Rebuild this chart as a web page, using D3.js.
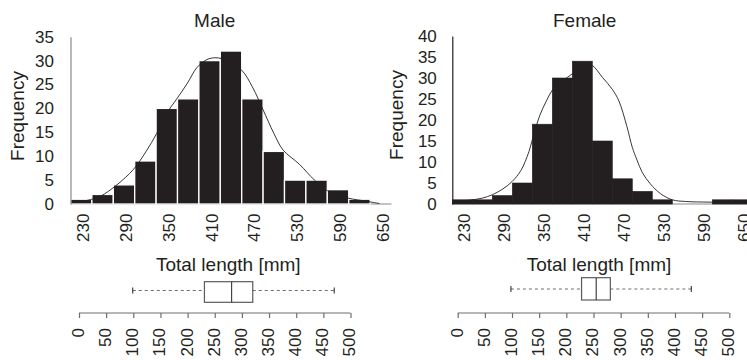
<!DOCTYPE html>
<html>
<head>
<meta charset="utf-8">
<script src="https://cdn.jsdelivr.net/npm/d3@7"></script>
<style>
  html, body { margin: 0; padding: 0; background: #fff; }
  svg { display: block; }
  text { font-family: "Liberation Sans", Arial, sans-serif; fill: #231f20; }
</style>
</head>
<body>
<svg id="chart" width="747" height="360"></svg>
<script>
// Histogram bins (30 mm wide), labelled by bin centre
const binCenters = [230, 260, 290, 320, 350, 380, 410, 440, 470, 500, 530, 560, 590, 620, 650];
const maleCounts = [1, 2, 4, 9, 20, 22, 30, 32, 22, 11, 5, 5, 3, 1, 0];
const femaleCounts = [1, 1, 2, 5, 19, 30, 34, 15, 6, 3, 1, 0, 0, 1, 1];
const lengthTicks = [230, 290, 350, 410, 470, 530, 590, 650];
const maleFreqTicks = [0, 5, 10, 15, 20, 25, 30, 35];
const femaleFreqTicks = [0, 5, 10, 15, 20, 25, 30, 35, 40];

// Smoothed frequency curves, [length mm, frequency]
const maleCurve = [
  [230, 0.5], [245, 1.0], [258, 1.7], [280, 4.0], [303, 7.2], [321, 11.0], [336, 14.8],
  [350, 19.0], [364, 22.0], [379, 25.3], [392, 28.5], [406, 30.2], [419, 30.6], [435, 30.0],
  [455, 28.0], [470, 24.5], [485, 19.7], [500, 14.8], [513, 11.3], [536, 8.3], [557, 5.0],
  [575, 2.8], [590, 1.9], [605, 1.2], [629, 0.6], [648, 0.1]
];
const femaleCurve = [
  [215, 0.7], [240, 0.9], [260, 1.4], [275, 2.2], [291, 3.6], [305, 5.4], [318, 8.0],
  [330, 12.5], [338, 17.0], [346, 21.0], [356, 24.5], [366, 27.3], [380, 29.3], [395, 31.0],
  [405, 32.6], [414, 33.5], [425, 33.0], [440, 30.2], [455, 27.3], [465, 24.5], [477, 18.4],
  [485, 13.5], [492, 10.5], [500, 7.5], [512, 4.8], [527, 2.5], [545, 1.0], [565, 0.6],
  [600, 0.45], [640, 0.4], [665, 0.4]
];

// Box plot summaries: [lower whisker, Q1, median, Q3, upper whisker]
const maleBox = [99, 231, 281, 320, 470];
const femaleBox = [98, 228, 255, 281, 430];
const boxTicks = [0, 50, 100, 150, 200, 250, 300, 350, 400, 450, 500];

const INK = "#231f20";
const TICK_FONT = "17px";
const LABEL_FONT = "19px";
const svg = d3.select("#chart");

function panel(opt) {
  const g = svg.append("g");
  const x = d3.scaleLinear().domain([215, 665]).range(opt.xRange);
  const y = d3.scaleLinear().domain([0, opt.yMax]).range([204, opt.yTop]);

  // title
  g.append("text").attr("x", opt.titleX).attr("y", 27)
    .attr("text-anchor", "middle").style("font-size", LABEL_FONT)
    .text(opt.title);

  // baseline
  g.append("line").attr("x1", opt.xRange[0]).attr("x2", opt.xRange[1])
    .attr("y1", y(0)).attr("y2", y(0)).attr("stroke", "#8a8a8a").attr("stroke-width", 1.2);

  // bars
  g.selectAll("rect.bar").data(binCenters.map((c, i) => ({c, v: opt.counts[i]})).filter(d => d.v > 0))
    .join("rect").attr("class", "bar")
    .attr("x", d => x(d.c - 15)).attr("width", d => x(d.c + 15) - x(d.c - 15))
    .attr("y", d => y(d.v)).attr("height", d => y(0) - y(d.v))
    .attr("fill", INK)
    .attr("stroke", opt.barStroke).attr("stroke-width", opt.barStrokeWidth);

  // curve
  g.append("path").datum(opt.curve)
    .attr("d", d3.line().x(d => x(d[0])).y(d => y(d[1])).curve(d3.curveCatmullRom.alpha(0.5)))
    .attr("fill", "none").attr("stroke", INK).attr("stroke-width", 0.9);

  // y axis
  const yAxis = d3.axisLeft(y).tickValues(opt.yTicks).tickSize(0).tickPadding(opt.yPad);
  const ya = g.append("g").attr("transform", `translate(${opt.xRange[0]},0)`).call(yAxis);
  ya.select(".domain").attr("stroke", opt.yAxisColor).attr("stroke-width", 1.2);
  ya.selectAll("text").style("font-size", TICK_FONT).style("font-family", "Liberation Sans, Arial, sans-serif")
    .attr("fill", INK);

  // x tick labels (rotated)
  const xa = g.append("g").attr("transform", `translate(0,204)`)
    .call(d3.axisBottom(x).tickValues(lengthTicks).tickSize(0).tickPadding(0));
  xa.select(".domain").remove();
  xa.selectAll("text")
    .style("font-size", TICK_FONT).style("font-family", "Liberation Sans, Arial, sans-serif")
    .attr("fill", INK)
    .attr("text-anchor", "end")
    .attr("transform", "rotate(-90)")
    .attr("x", -9.5).attr("y", 1.5).attr("dy", "0.35em");

  // axis titles
  g.append("text")
    .attr("transform", `translate(${opt.freqX},${opt.freqY}) rotate(-90)`)
    .attr("text-anchor", "middle").style("font-size", LABEL_FONT)
    .text("Frequency");
  g.append("text").attr("x", opt.labelX).attr("y", 271)
    .attr("text-anchor", "middle").style("font-size", LABEL_FONT)
    .text("Total length [mm]");

  // box plot
  const bx = d3.scaleLinear().domain([0, 500]).range(opt.boxRange);
  const b = opt.box;
  const [bTop, bBot] = opt.boxY;
  const mid = opt.whiskerY;
  const bg = g.append("g");
  bg.append("line").attr("x1", bx(b[0])).attr("x2", bx(b[1])).attr("y1", mid).attr("y2", mid)
    .attr("stroke", "#6e6e6e").attr("stroke-width", 1).attr("stroke-dasharray", "3,3");
  bg.append("line").attr("x1", bx(b[3])).attr("x2", bx(b[4])).attr("y1", mid).attr("y2", mid)
    .attr("stroke", "#6e6e6e").attr("stroke-width", 1).attr("stroke-dasharray", "3,3");
  [b[0], b[4]].forEach(v => {
    bg.append("line").attr("x1", bx(v)).attr("x2", bx(v)).attr("y1", mid - 3).attr("y2", mid + 3)
      .attr("stroke", INK).attr("stroke-width", 1);
  });
  bg.append("rect").attr("x", bx(b[1])).attr("width", bx(b[3]) - bx(b[1]))
    .attr("y", bTop).attr("height", bBot - bTop)
    .attr("fill", "#fff").attr("stroke", "#5a5a5a").attr("stroke-width", 1.2);
  bg.append("line").attr("x1", bx(b[2])).attr("x2", bx(b[2])).attr("y1", bTop).attr("y2", bBot)
    .attr("stroke", "#444").attr("stroke-width", 1.2);

  const ba = g.append("g").attr("transform", `translate(0,313)`)
    .call(d3.axisBottom(bx).tickValues(boxTicks).tickSizeInner(5).tickSizeOuter(0).tickPadding(0));
  ba.select(".domain").attr("stroke", "#6e6e6e").attr("stroke-width", 1.2).attr("d", `M${opt.boxRange[0]},0H${opt.boxRange[1]}`);
  ba.selectAll(".tick line").attr("stroke", "#6e6e6e").attr("stroke-width", 1.2);
  ba.selectAll("text")
    .style("font-size", TICK_FONT).style("font-family", "Liberation Sans, Arial, sans-serif")
    .attr("fill", INK)
    .attr("text-anchor", "end")
    .attr("transform", "rotate(-90)")
    .attr("x", -15).attr("y", -1.5).attr("dy", "0.35em");
}

panel({
  title: "Male", titleX: 214.7,
  xRange: [70.5, 391.5], yMax: 35, yTop: 36.7, yTicks: maleFreqTicks, yPad: 16.5,
  yAxisColor: "#8a8a8a",
  counts: maleCounts, curve: maleCurve,
  barStroke: "#fff", barStrokeWidth: 1.3,
  freqX: 24, freqY: 116, labelX: 228.3,
  box: maleBox, boxRange: [79, 350.5], boxY: [281.7, 302.3], whiskerY: 290.5
});

panel({
  title: "Female", titleX: 584.7,
  xRange: [452.3, 752.3], yMax: 40, yTop: 36, yTicks: femaleFreqTicks, yPad: 15.5,
  yAxisColor: INK,
  counts: femaleCounts, curve: femaleCurve,
  barStroke: INK, barStrokeWidth: 0.6,
  freqX: 402.5, freqY: 115, labelX: 599,
  box: femaleBox, boxRange: [457.7, 729.3], boxY: [277.7, 300], whiskerY: 289
});
</script>
</body>
</html>
